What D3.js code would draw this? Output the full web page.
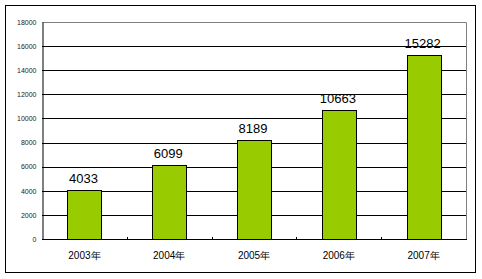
<!DOCTYPE html>
<html>
<head>
<meta charset="utf-8">
<style>
    body { margin: 0; background: #fff; }
    svg { display: block; }
    .grid line { stroke: #000; stroke-width: 1; }
    .bar { fill: #99cc00; stroke: #000; stroke-width: 1; }
    .ytick { font-family: "Liberation Sans", Arial, sans-serif; font-size: 7px; fill: #222; }
    .xtick { font-family: "Liberation Sans", Arial, sans-serif; font-size: 10px; fill: #000; }
    .vlabel { font-family: "Liberation Sans", Arial, sans-serif; font-size: 13px; fill: #000; }
</style>
</head>
<body>
<script src="https://d3js.org/d3.v7.min.js"></script>
<script>

    var years = ["2003年", "2004年", "2005年", "2006年", "2007年"];
    var values = [4033, 6099, 8189, 10663, 15282];
    var yTicks = [0, 2000, 4000, 6000, 8000, 10000, 12000, 14000, 16000, 18000];

    var width = 482, height = 279;
    var plotLeft = 42, plotRight = 466, plotTop = 22, plotBottom = 239;

    var svg = d3.select("body").append("svg")
        .attr("width", width)
        .attr("height", height);

    // outer frame
    svg.append("rect")
        .attr("x", 5.5).attr("y", 5.5)
        .attr("width", 470).attr("height", 267)
        .attr("fill", "none").attr("stroke", "#000");

    var x = d3.scaleBand().domain(years).range([plotLeft, plotRight]);
    var y = d3.scaleLinear().domain([0, 18000]).range([plotBottom, plotTop]);

    // gridlines
    var grid = svg.append("g").attr("class", "grid");
    grid.selectAll("line")
        .data(yTicks.filter(function(d) { return d > 0 && d < 18000; }))
        .enter().append("line")
        .attr("x1", plotLeft).attr("x2", plotRight)
        .attr("y1", function(d) { return Math.round(y(d)) + 0.5; })
        .attr("y2", function(d) { return Math.round(y(d)) + 0.5; });

    // plot border (grey top and right)
    svg.append("path")
        .attr("d", "M" + plotLeft + "," + (plotTop + 0.5) + "H" + (plotRight + 0.5) + "V" + plotBottom)
        .attr("fill", "none").attr("stroke", "#808080");

    // bars
    var bw = 34;
    svg.selectAll("rect.bar")
        .data(values)
        .enter().append("rect")
        .attr("class", "bar")
        .attr("x", function(d, i) { return Math.round(x(years[i]) + x.bandwidth() / 2 - bw / 2) + 0.5; })
        .attr("y", function(d) { return Math.round(y(d)) + 0.5; })
        .attr("width", bw)
        .attr("height", function(d) { return plotBottom - Math.round(y(d)); });

    // value labels
    svg.selectAll("text.vlabel")
        .data(values)
        .enter().append("text")
        .attr("class", "vlabel")
        .attr("x", function(d, i) { return x(years[i]) + x.bandwidth() / 2 - 1; })
        .attr("y", function(d) { return y(d) - 7; })
        .attr("text-anchor", "middle")
        .text(function(d) { return d; });

    // y axis
    var yAxis = d3.axisLeft(y).tickValues(yTicks).tickSize(0).tickPadding(6).tickFormat(d3.format("d"));
    var gy = svg.append("g")
        .attr("transform", "translate(" + (plotLeft + 0.5) + ",0)")
        .call(yAxis);
    gy.select(".domain").attr("stroke", "#000");
    gy.selectAll("text").attr("class", "ytick");
    gy.attr("font-size", null).attr("font-family", null);

    // x axis
    svg.append("line")
        .attr("x1", plotLeft).attr("x2", plotRight + 1)
        .attr("y1", plotBottom + 0.5).attr("y2", plotBottom + 0.5)
        .attr("stroke", "#000");
    svg.selectAll("line.xt")
        .data(years.slice(1))
        .enter().append("line")
        .attr("class", "xt")
        .attr("x1", function(d) { return Math.round(x(d)) + 0.5; })
        .attr("x2", function(d) { return Math.round(x(d)) + 0.5; })
        .attr("y1", plotBottom - 2).attr("y2", plotBottom)
        .attr("stroke", "#000");
    svg.selectAll("text.xtick")
        .data(years)
        .enter().append("text")
        .attr("class", "xtick")
        .attr("x", function(d) { return x(d) + x.bandwidth() / 2; })
        .attr("y", 259)
        .attr("text-anchor", "middle")
        .text(function(d) { return d; });

</script>
</body>
</html>
